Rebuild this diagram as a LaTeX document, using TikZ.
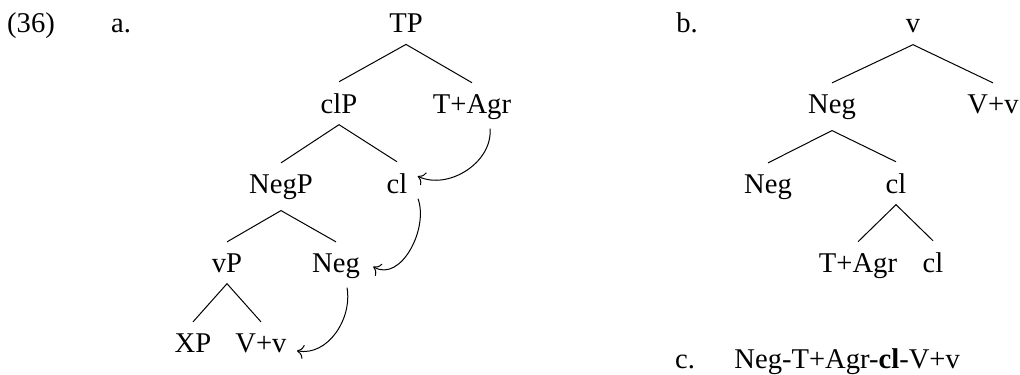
\documentclass[tikz,border=0pt]{standalone}
\usepackage{fontspec}
\setmainfont{Liberation Serif}
\usetikzlibrary{arrows.meta}
\begin{document}
\begin{tikzpicture}[x=0.5pt,y=-0.5pt,
  every node/.style={font=\fontsize{14.3}{17}\selectfont},
  lab/.style={anchor=base, inner sep=0pt},
  cat/.style={anchor=base, inner xsep=0pt, inner ysep=5.5pt},
  branch/.style={line width=0.5pt},
  mv/.style={line width=0.5pt, -{To[scale=1.25]}}]
\useasboundingbox (0,0) rectangle (1020,374);

% example number and sub-labels
\node[lab] (exnum) at (31,33) {(36)};
\node[lab] (exa) at (121,33) {a.};
\node[lab] (exb) at (687,33) {b.};
\node[lab] (exc) at (685,368) {c.};
\node[lab, anchor=base west] (lin) at (734,368) {Neg-T+Agr-\textbf{cl}-V+v};

% tree (a)
\node[cat] (TP)   at (406,33)  {TP};
\node[cat] (clP)  at (339,113) {clP};
\node[cat] (TA)   at (472,113) {T+Agr};
\node[cat] (NegP) at (281,193) {NegP};
\node[cat] (cl)   at (397,193) {cl};
\node[cat] (vP)   at (227,272) {vP};
\node[cat] (Neg)  at (336,272) {Neg};
\node[cat] (XP)   at (193,352) {XP};
\node[cat] (Vv)   at (261,352) {V+v};

\draw[branch] (clP.north) -- (TP.south) -- (TA.north);
\draw[branch] (NegP.north) -- (clP.south) -- (cl.north);
\draw[branch] (vP.north) -- (NegP.south) -- (Neg.north);
\draw[branch] (XP.north) -- (vP.south) -- (Vv.north);

% head movement arrows
\draw[mv] ([xshift=9pt,yshift=1pt]TA.south) to[out=-85,in=-25] ([xshift=5pt,yshift=3.5pt]cl.east);
\draw[mv] ([xshift=10.5pt,yshift=3pt]cl.south) to[out=-70,in=-30] ([xshift=6.5pt,yshift=-0.5pt]Neg.east);
\draw[mv] ([xshift=5.5pt,yshift=1pt]Neg.south) to[out=-80,in=-10] ([xshift=5pt,yshift=-4pt]Vv.east);

% tree (b)
\node[cat] (v)    at (913,33)  {v};
\node[cat] (bNeg) at (832,113) {Neg};
\node[cat] (bVv)  at (993,113) {V+v};
\node[cat] (bNg)  at (768,193) {Neg};
\node[cat] (bcl)  at (896,193) {cl};
\node[cat] (bTA)  at (858,272) {T+Agr};
\node[cat] (bcl2) at (933,272) {cl};

\draw[branch] (bNeg.north) -- (v.south) -- (bVv.north);
\draw[branch] (bNg.north) -- (bNeg.south) -- (bcl.north);
\draw[branch] (bTA.north) -- (bcl.south) -- (bcl2.north);
\end{tikzpicture}
\end{document}
